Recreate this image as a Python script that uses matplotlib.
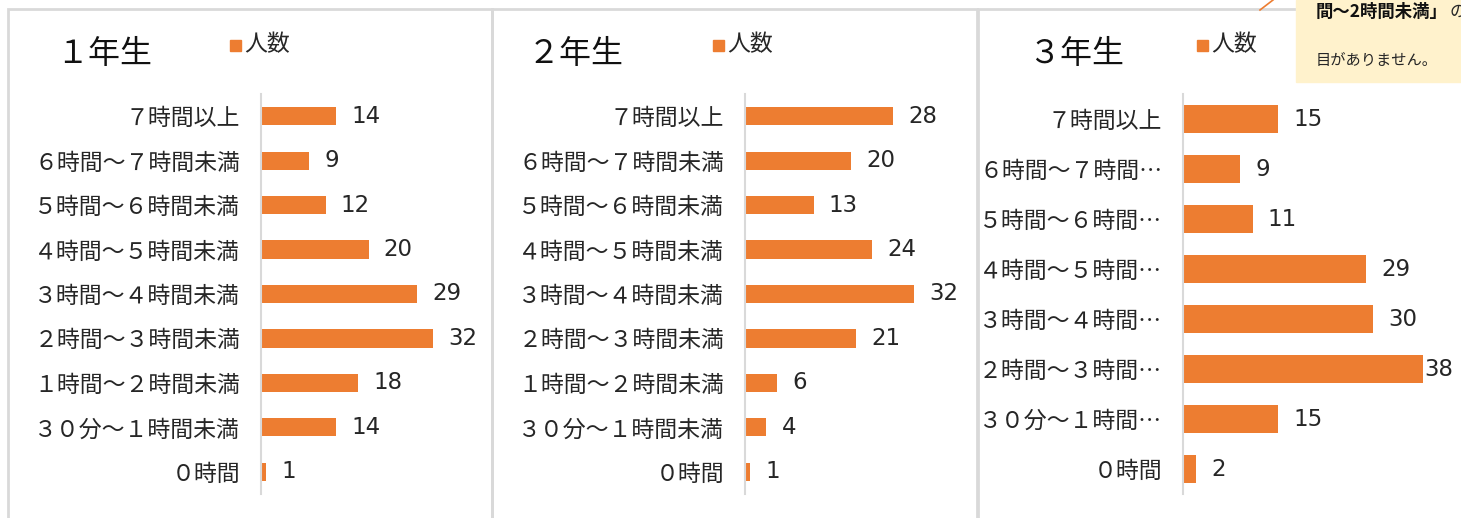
import matplotlib
matplotlib.use("Agg")
import matplotlib.pyplot as plt
from matplotlib.patches import Rectangle
from matplotlib.lines import Line2D

plt.rcParams['font.family'] = ['Noto Sans CJK JP', 'DejaVu Sans']

# ===================== DATA =====================
labels_12 = ["７時間以上", "６時間～７時間未満", "５時間～６時間未満", "４時間～５時間未満",
             "３時間～４時間未満", "２時間～３時間未満", "１時間～２時間未満",
             "３０分～１時間未満", "０時間"]
grade1 = [14, 9, 12, 20, 29, 32, 18, 14, 1]
grade2 = [28, 20, 13, 24, 32, 21, 6, 4, 1]

labels_3 = ["７時間以上", "６時間～７時間…", "５時間～６時間…", "４時間～５時間…",
            "３時間～４時間…", "２時間～３時間…", "３０分～１時間…", "０時間"]
grade3 = [15, 9, 11, 29, 30, 38, 15, 2]

titles = ["１年生", "２年生", "３年生"]
legend_label = "人数"
note_line1 = "間～2時間未満」"
note_line1b = "の項"
note_line2 = "目がありません。"

ORANGE = "#ED7D31"
GRID = "#D9D9D9"
W, H = 1461, 518

fig = plt.figure(figsize=(W / 100, H / 100), dpi=100)


def px_box(l, t, r, b):
    return [l / W, 1 - b / H, (r - l) / W, (b - t) / H]


def fx(x):
    return x / W


def fy(y):
    return 1 - y / H


# ===================== PANEL FRAMES =====================
for l, r in [(8, 492), (492, 977), (978, 1470)]:
    fig.add_artist(Rectangle((fx(l), fy(530)), fx(r) - fx(l), fy(9) - fy(530),
                             transform=fig.transFigure, fill=False,
                             edgecolor=GRID, linewidth=2))

# ===================== PANELS =====================
# (labels, values, zero px, right px, px per unit, title x, legend x, bar height)
panels = [
    (labels_12, grade1, 261, 480, 5.375, 56, 230, 0.41),
    (labels_12, grade2, 745, 965, 5.28, 528, 713, 0.41),
    (labels_3, grade3, 1183, 1461, 6.32, 1028, 1197, 0.56),
]

for i, (labels, vals, x0, x1, k, tx, lx, bh) in enumerate(panels):
    ax = fig.add_axes(px_box(x0, 94, x1, 494))
    ax.patch.set_alpha(0)
    n = len(labels)
    ypos = list(range(n))
    ax.barh(ypos, vals, height=bh, color=ORANGE)
    ax.set_xlim(0, (x1 - x0) / k)
    ax.set_ylim(n - 0.5, -0.5)
    ax.set_yticks(ypos)
    ax.set_yticklabels(labels, fontsize=16.5, color="#262626")
    ax.tick_params(axis="y", length=0, pad=15)
    ax.set_xticks([])
    for s in ["top", "right", "bottom"]:
        ax.spines[s].set_visible(False)
    ax.spines["left"].set_color(GRID)
    ax.spines["left"].set_linewidth(1.5)
    vmax = max(vals)
    for y, v in zip(ypos, vals):
        off = 0.5 if (i == 2 and v == vmax) else 11
        ax.annotate(str(v), (v, y), xytext=(off, 0), textcoords="offset points",
                    ha="left", va="center", fontsize=16.5, color="#262626",
                    family="DejaVu Sans", annotation_clip=False)

    fig.text(fx(tx), fy(54), titles[i], fontsize=23, ha="left", va="center",
             color="#111111")
    fig.add_artist(Rectangle((fx(lx), fy(51)), fx(11), 11 / H,
                             transform=fig.transFigure, color=ORANGE))
    fig.text(fx(lx + 14), fy(45), legend_label, fontsize=16.5, ha="left",
             va="center", color="#262626")

# ===================== CALLOUT =====================
fig.add_artist(Line2D([fx(1260), fx(1273)], [fy(10), fy(0)],
                      transform=fig.transFigure, color=ORANGE, linewidth=1.2))
fig.add_artist(Rectangle((fx(1296), fy(82)), fx(1470) - fx(1296), fy(0) - fy(82),
                         transform=fig.transFigure, color="#FFF2CC"))
t1 = fig.text(fx(1316), fy(12), note_line1, fontsize=12.5, fontweight="bold",
              ha="left", va="center", color="#111111")
bb = t1.get_window_extent(renderer=fig.canvas.get_renderer())
fig.text(fx(bb.x1 + 2), fy(12), note_line1b, fontsize=12, ha="left", va="center",
         color="#262626")
fig.text(fx(1316), fy(60), note_line2, fontsize=11, ha="left", va="center",
         color="#262626")

fig.savefig("out.png", dpi=100)
